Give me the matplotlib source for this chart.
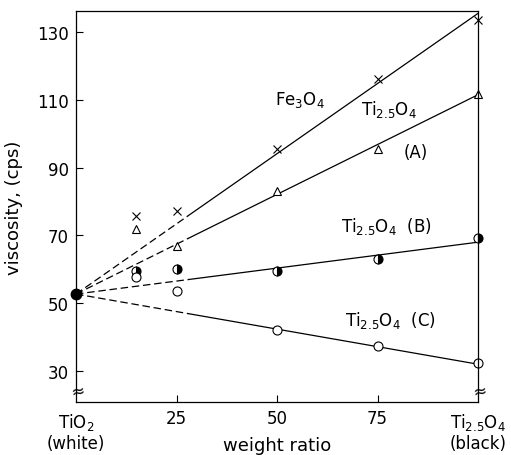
import matplotlib
matplotlib.use('Agg')
import matplotlib.pyplot as plt

plt.rcParams['font.family'] = 'DejaVu Sans'
plt.rcParams['mathtext.default'] = 'regular'

# ---- data ----
# common origin: pure TiO2 (white)
x0, y0 = 0, 52.7

# measured points (weight ratio, viscosity cps)
x_pts = [15, 25, 50, 75, 100]
fe3o4 = [75.7, 77.2, 95.5, 116.1, 133.5]
ti_a = [71.9, 66.9, 83.1, 95.5, 111.7]
ti_b = [59.5, 60.1, 59.5, 63.0, 69.2]
ti_c = [57.7, 53.6, 42.1, 37.4, 32.4]

# fitted straight lines: value at x = 100
line_end = {'fe': 135.5, 'a': 111.5, 'b': 68.0, 'c': 32.0}

x_ticks = [25, 50, 75]
y_ticks = [30, 50, 70, 90, 110, 130]

# ---- plot ----
fig = plt.figure(figsize=(5.11, 4.56), dpi=100)
ax = fig.add_axes([76/511, 1 - 403/456, (478-76)/511, (403-12)/456])

dash_end = 28
for key in ['fe', 'a', 'b', 'c']:
	y1 = line_end[key]
	yd = y0 + (y1 - y0) * dash_end / 100
	ax.plot([x0, dash_end], [y0, yd], color='black', lw=0.9, ls=(0, (6, 3)))
	ax.plot([dash_end, 100], [yd, y1], color='black', lw=0.9)

ax.plot(x_pts, fe3o4, 'x', color='black', ms=5.5, mew=0.8, clip_on=False)
ax.plot(x_pts, ti_a, '^', color='black', mfc='white', ms=6, mew=0.8, clip_on=False)
ax.plot(x_pts, ti_b, 'o', color='black', mfc='black', mfcalt='white', fillstyle='right',
	ms=6.5, mew=0.8, clip_on=False)
ax.plot(x_pts, ti_c, 'o', color='black', mfc='white', ms=6.5, mew=0.8, clip_on=False)
ax.plot([x0], [y0], 'o', color='black', ms=7.5, clip_on=False, zorder=5)

ax.set_xlim(0, 100)
ax.set_ylim(20.85, 136.2)
ax.set_xticks(x_ticks)
ax.set_yticks(y_ticks)
ax.tick_params(direction='in', length=5, width=0.8, labelsize=12, pad=5)
for s in ax.spines.values():
	s.set_linewidth(0.9)

ax.set_ylabel('viscosity, (cps)', fontsize=13, labelpad=10)

# x axis label and end labels
ax.text(0.5, -0.11, 'weight ratio', transform=ax.transAxes, ha='center', va='center',
	fontsize=13)
ax.text(0, -0.051, 'TiO$_2$', transform=ax.transAxes, ha='center', va='center', fontsize=12)
ax.text(0, -0.105, '(white)', transform=ax.transAxes, ha='center', va='center', fontsize=12)
ax.text(1, -0.051, 'Ti$_{2.5}$O$_4$', transform=ax.transAxes, ha='center', va='center', fontsize=12)
ax.text(1, -0.105, '(black)', transform=ax.transAxes, ha='center', va='center', fontsize=12)

# axis break marks
for xb in [0, 1]:
	ax.text(xb + 0.004, 0.031, '≈', transform=ax.transAxes, ha='center', va='center',
		fontsize=12, rotation=10, clip_on=False)

# curve labels
ax.text(55.7, 110.2, 'Fe$_3$O$_4$', fontsize=12, ha='center', va='center')
ax.text(77.9, 107.3, 'Ti$_{2.5}$O$_4$', fontsize=12, ha='center', va='center')
ax.text(84.6, 94.6, '(A)', fontsize=12, ha='center', va='center')
ax.text(77.1, 72.8, 'Ti$_{2.5}$O$_4$  (B)', fontsize=12, ha='center', va='center')
ax.text(78.1, 45.3, 'Ti$_{2.5}$O$_4$  (C)', fontsize=12, ha='center', va='center')

plt.savefig('out.png', dpi=100)
